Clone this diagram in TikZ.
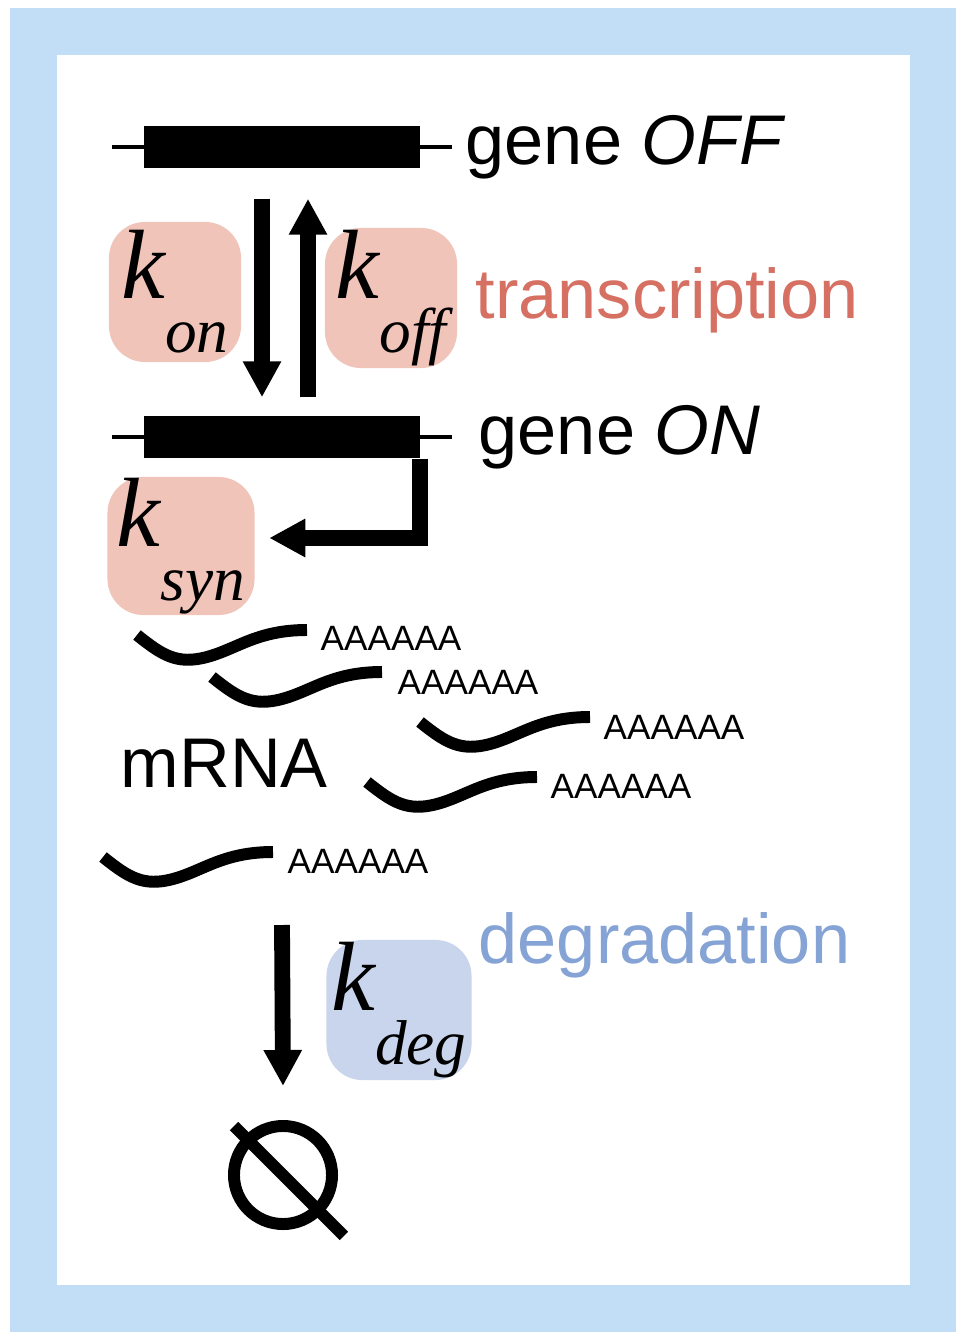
\documentclass[tikz,border=0pt]{standalone}
\usepackage{fontspec}
\setmainfont{Liberation Sans}
\newfontfamily\tms{Liberation Serif}
\usetikzlibrary{calc,arrows.meta}
\definecolor{frameblue}{RGB}{193,222,246}
\definecolor{ratepink}{RGB}{241,196,186}
\definecolor{rateblue}{RGB}{201,213,236}
\definecolor{txred}{RGB}{214,112,98}
\definecolor{txblue}{RGB}{133,163,212}
\newcommand{\rate}[1]{{\tms\itshape\fontsize{28pt}{28pt}\selectfont k\raisebox{-0.55em}{\fontsize{18pt}{18pt}\selectfont #1}}}
\tikzset{
  bar/.style={fill=black, minimum width=2.75cm, minimum height=0.42cm, inner sep=0},
  ratebox/.style={rounded corners=0.36cm, minimum width=1.32cm, minimum height=1.4cm, inner sep=0},
  big/.style={font=\fontsize{20pt}{20pt}\selectfont, anchor=west, inner sep=0},
  polyA/.style={font=\fontsize{10pt}{10pt}\selectfont, anchor=west, inner sep=0},
  arr/.style={line width=4.5pt, -{Triangle[length=0.36cm,width=0.36cm]}},
  wave/.pic={\draw[line width=3.4pt] (0,0) .. controls (25,20) and (40,30) .. (70,22)
              .. controls (100,14) and (120,-5) .. (170,-5);}
}
\begin{document}
\begin{tikzpicture}[x=0.01cm,y=-0.01cm]
  \fill[frameblue] (10,8) rectangle (956,1332);
  \fill[white] (57,55) rectangle (910,1285);
  \useasboundingbox (0,0) rectangle (960,1337);
  % gene OFF
  \draw[line width=1.4pt] (112,147) -- (452,147);
  \node[bar] (offbar) at (282,147) {};
  \node[big] (offlbl) at (465,147) {gene \textit{OFF}};
  % gene ON
  \draw[line width=1.4pt] (112,437) -- (452,437);
  \node[bar] (onbar) at (282,437) {};
  \node[big] (onlbl) at (478,437) {gene \textit{ON}};
  % switching
  \node[ratebox, fill=ratepink] (kon) at (175,292) {\rate{on}};
  \node[ratebox, fill=ratepink] (koff) at (391,298) {\rate{off}};
  \node[big, text=txred] (trans) at (475,300) {transcription};
  \draw[arr] ($(offbar.south)+(-20,30)$) -- ($(onbar.north)+(-20,-18)$);
  \draw[arr] ($(onbar.north)+(26,-18)$) -- ($(offbar.south)+(26,30)$);
  % synthesis
  \node[ratebox, fill=ratepink, minimum width=1.47cm, minimum height=1.38cm] (ksyn) at (181,546) {\rate{syn}};
  \draw[arr] (onbar.south east) |- ($(ksyn.east)+(14,-8)$);
  % mRNA
  \pic at (137,635) {wave};
  \node[polyA] (a1) at (320,638) {AAAAAA};
  \pic at (212,677) {wave};
  \node[polyA] (a2) at (397,682) {AAAAAA};
  \pic at (420,722) {wave};
  \node[polyA] (a3) at (603,727) {AAAAAA};
  \pic at (367,782) {wave};
  \node[polyA] (a4) at (550,786) {AAAAAA};
  \pic at (103,857) {wave};
  \node[polyA] (a5) at (287,861) {AAAAAA};
  \node[big] (mrna) at (120,763) {mRNA};
  % degradation
  \node[big, text=txblue] (deg) at (478,945) {degradation};
  \node[ratebox, fill=rateblue, minimum width=1.45cm] (kdeg) at (399,1010) {\rate{deg}};
  \node[circle, draw, line width=3.4pt, minimum size=0.98cm, inner sep=0] (null) at (283,1175) {};
  \coordinate (degtop) at (282,925);
  \draw[arr] (degtop) -- ($(null.north)+(0,-34)$);
  \draw[line width=3.4pt] ($(null.north west)+(-10,-10)$) -- ($(null.south east)+(22,22)$);
\end{tikzpicture}
\end{document}
